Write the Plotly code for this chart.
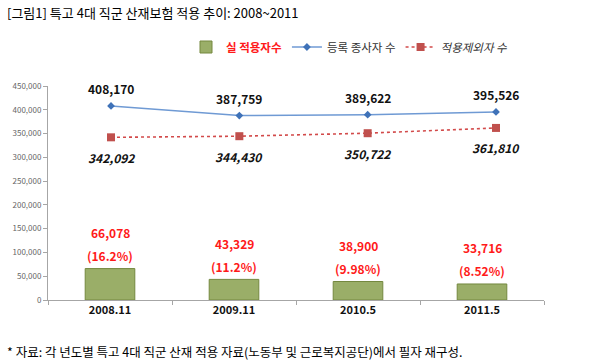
import plotly.graph_objects as go

categories = ["2008.11", "2009.11", "2010.5", "2011.5"]
registered = [408170, 387759, 389622, 395526]   # 등록 종사자 수
excluded = [342092, 344430, 350722, 361810]     # 적용제외자 수
applied = [66078, 43329, 38900, 33716]          # 실 적용자수
applied_pct = ["(16.2%)", "(11.2%)", "(9.98%)", "(8.52%)"]
y_ticks = [0, 50000, 100000, 150000, 200000, 250000, 300000, 350000, 400000, 450000]

FONT = "Noto Sans CJK KR"
W, H = 600, 363
ML, MR, MT, MB = 48, 56, 86, 63
plot_w = W - ML - MR
plot_h = H - MT - MB


def px_to_paper(px_x, px_y):
    return ((px_x - ML) / plot_w, (H - MB - px_y) / plot_h)


fig = go.Figure()

fig.add_trace(go.Bar(
    x=categories, y=applied, name="<b><span style='color:#ff1a1a'>실 적용자수</span></b>",
    marker=dict(color="#9aae68", line=dict(color="#74883f", width=1)),
    width=0.4, xaxis="x", yaxis="y",
))
fig.add_trace(go.Scatter(
    x=categories, y=registered, name="등록 종사자 수", mode="lines+markers",
    line=dict(color="#6f9ad4", width=1.5),
    marker=dict(symbol="diamond", size=6, color="#3f72b8"),
    xaxis="x2", yaxis="y",
))
fig.add_trace(go.Scatter(
    x=categories, y=excluded, name="<i>적용제외자 수</i>", mode="lines+markers",
    line=dict(color="#d24a4a", width=1.6, dash="dot"),
    marker=dict(symbol="square", size=8, color="#c0504d"),
    xaxis="x2", yaxis="y",
))

ann = []
for i, v in enumerate(registered):
    ann.append(dict(x=i, y=v, xref="x2", yref="y", text=f"<b>{v:,}</b>", showarrow=False,
                    yshift=17, font=dict(family=FONT, size=12, color="#111")))
for i, v in enumerate(excluded):
    ann.append(dict(x=i, y=v, xref="x2", yref="y", text=f"<b><i>{v:,}</i></b>", showarrow=False,
                    yshift=-20, font=dict(family=FONT, size=12, color="#111")))
for i, (v, p) in enumerate(zip(applied, applied_pct)):
    ann.append(dict(x=i, y=v, xref="x", yref="y", text=f"<b>{v:,}</b>", showarrow=False,
                    yshift=36, font=dict(family=FONT, size=12, color="#ff1a1a")))
    ann.append(dict(x=i, y=v, xref="x", yref="y", text=f"<b>{p}</b>", showarrow=False,
                    yshift=13, font=dict(family=FONT, size=12, color="#ff1a1a")))

tx, ty = px_to_paper(5, 13)
fx, fy = px_to_paper(5, 351)
ann.append(dict(x=tx, y=ty, xref="paper", yref="paper",
                text="[그림1] 특고 4대 직군 산재보험 적용 추이: 2008~2011",
                showarrow=False, xanchor="left", yanchor="middle",
                font=dict(family=FONT, size=13, color="#000")))
ann.append(dict(x=fx, y=fy, xref="paper", yref="paper",
                text="* 자료: 각 년도별 특고 4대 직군 산재 적용 자료(노동부 및 근로복지공단)에서 필자 재구성.",
                showarrow=False, xanchor="left", yanchor="middle",
                font=dict(family=FONT, size=12.5, color="#000")))

lx, ly = px_to_paper(186, 47)

fig.update_layout(
    width=W, height=H,
    margin=dict(l=ML, r=MR, t=MT, b=MB, autoexpand=False),
    paper_bgcolor="white", plot_bgcolor="white",
    font=dict(family=FONT, size=12, color="#222"),
    showlegend=True,
    legend=dict(orientation="h", x=lx, y=ly, xanchor="left", yanchor="middle",
                font=dict(family=FONT, size=11.5, color="#333"), itemwidth=30,
                bgcolor="rgba(0,0,0,0)", traceorder="normal"),
    xaxis=dict(type="category", showgrid=False, showline=True, linecolor="#a6a6a6", linewidth=1,
               ticks="outside", ticklen=4, tickcolor="#a6a6a6", tickson="boundaries",
               tickfont=dict(family=FONT, size=11, color="#111"),
               tickprefix="<b>", ticksuffix="</b>", range=[-0.5, 3.5], fixedrange=True),
    xaxis2=dict(type="category", overlaying="x", showgrid=False, showline=False, showticklabels=False,
                ticks="", range=[-0.491, 3.374], fixedrange=True),
    yaxis=dict(range=[0, 450000], tickvals=y_ticks, tickformat=",", showgrid=False,
               showline=True, linecolor="#a6a6a6", linewidth=1, ticks="outside", ticklen=4,
               tickcolor="#a6a6a6", tickfont=dict(family=FONT, size=8, color="#666"), zeroline=False,
               fixedrange=True),
    annotations=ann,
)

fig.write_html("out.html", config={"displayModeBar": False},
               post_script="document.body.style.margin='0';document.body.style.padding='0';")
